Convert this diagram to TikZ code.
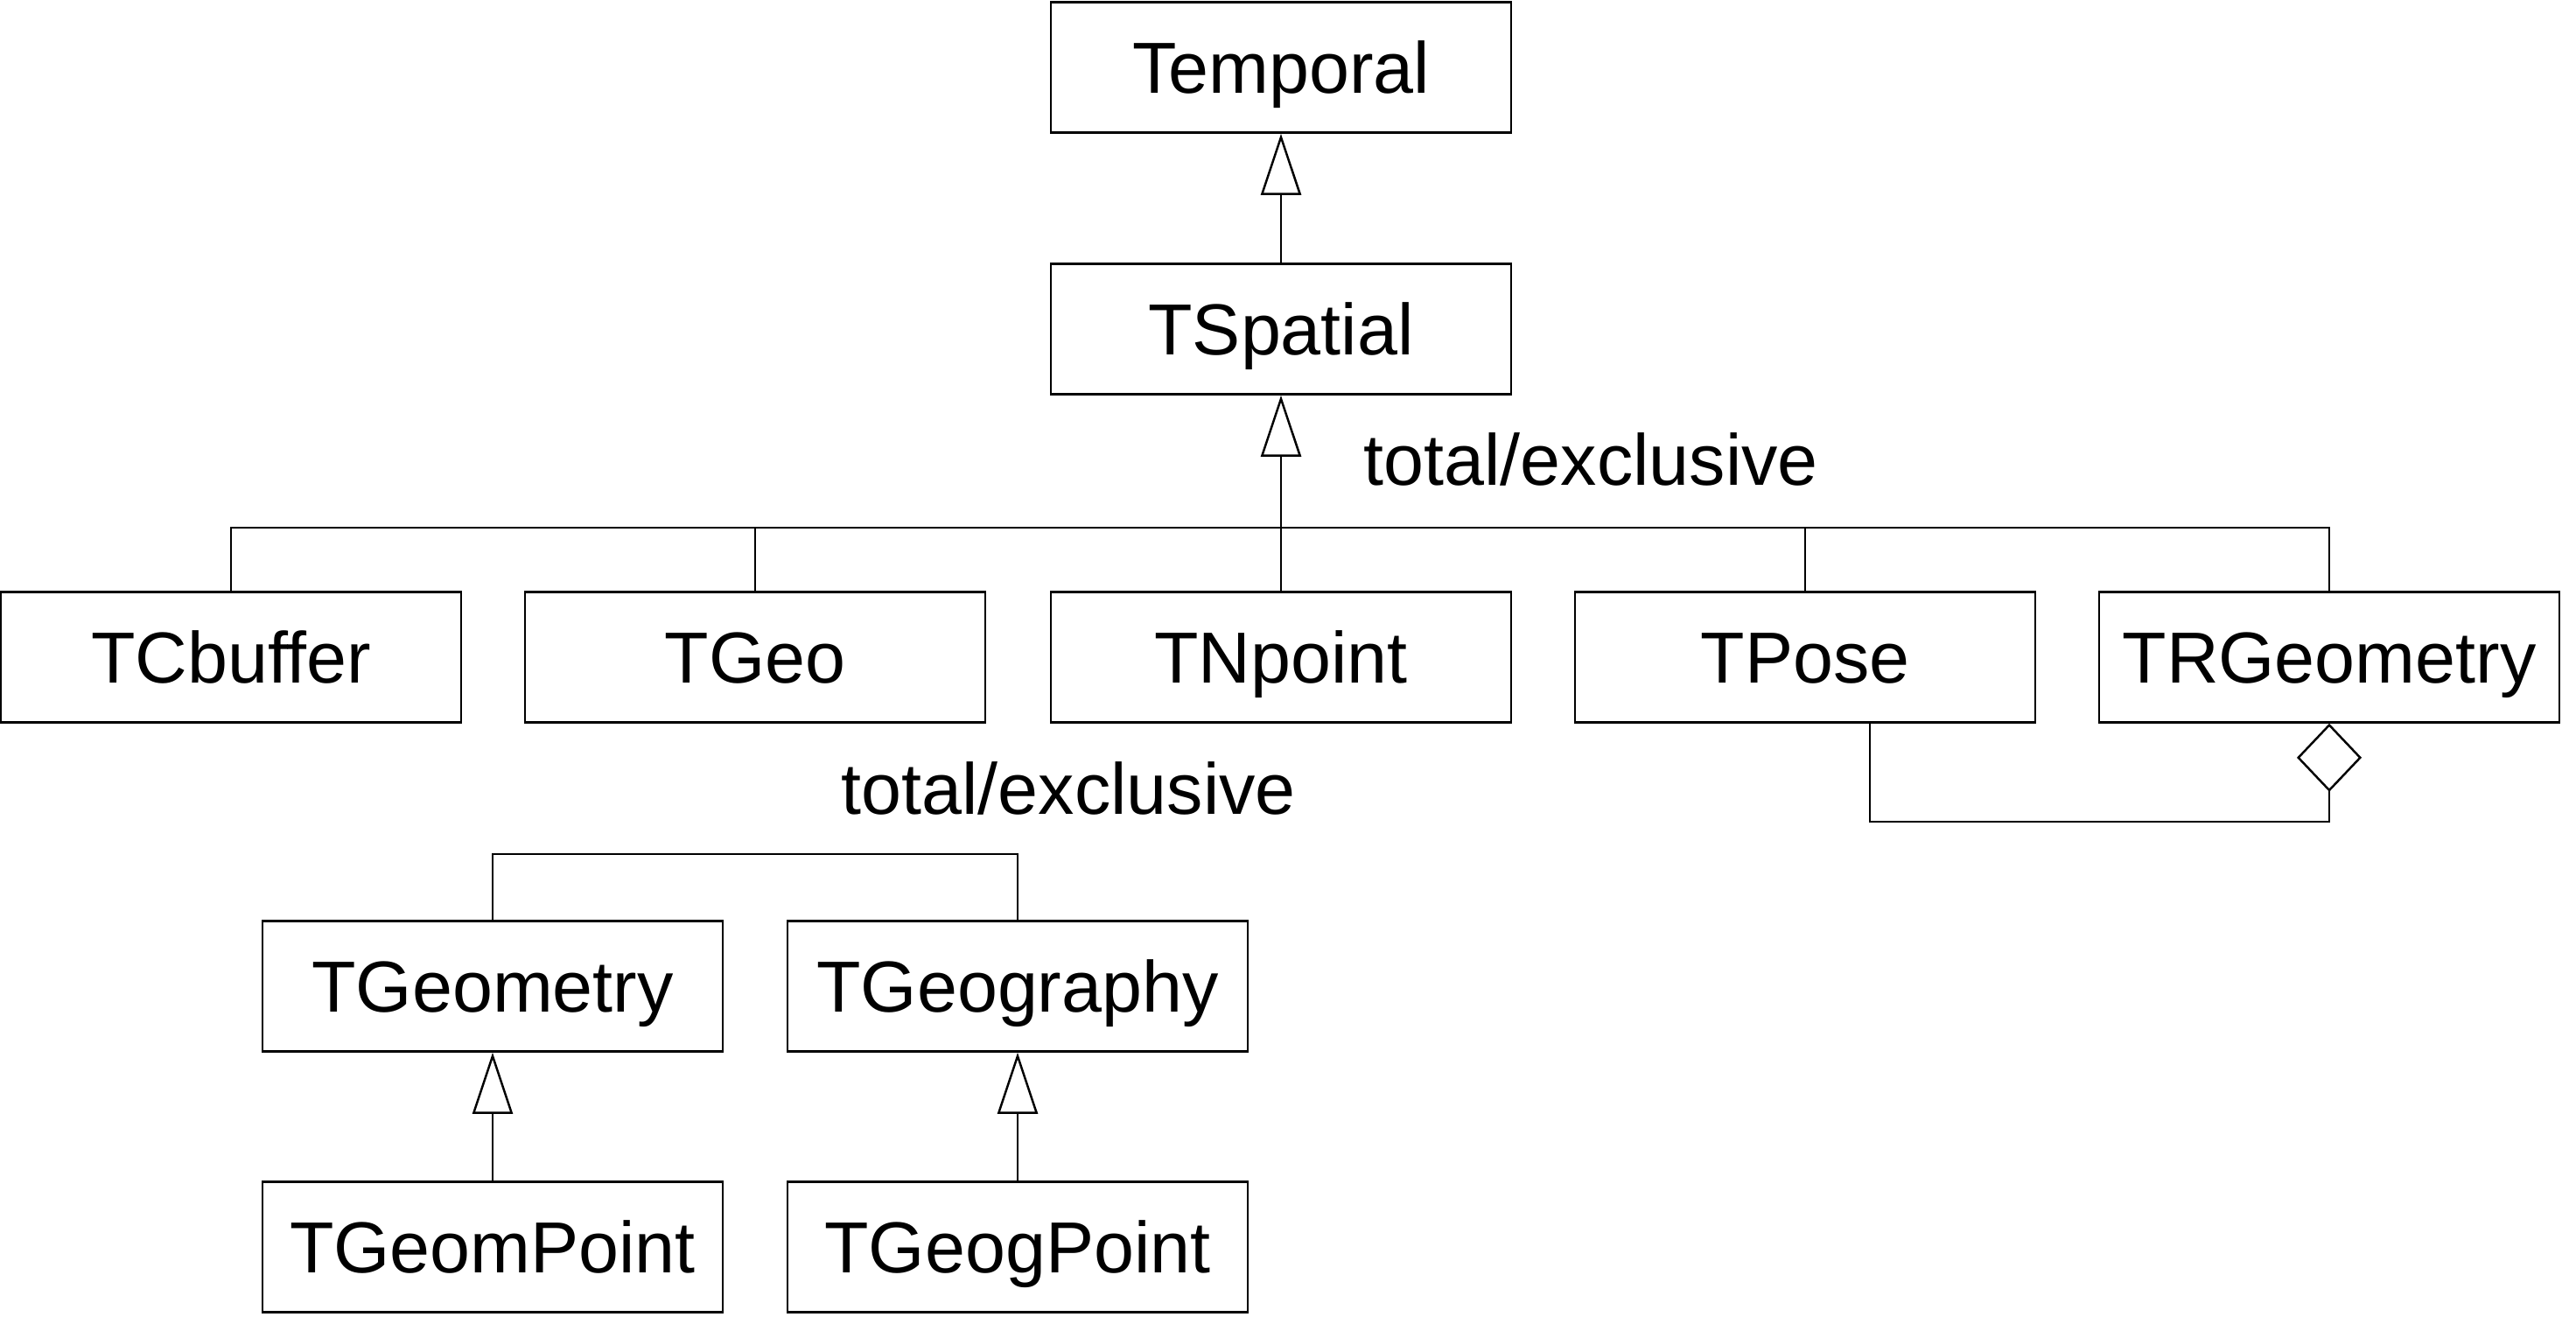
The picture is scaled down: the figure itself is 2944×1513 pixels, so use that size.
\documentclass[tikz,border=0pt]{standalone}
\usepackage{fontspec}
\setmainfont{Liberation Sans}
\usetikzlibrary{arrows.meta}
\begin{document}
\begin{tikzpicture}[x=0.01cm,y=-0.01cm,
  cls/.style={draw, line width=0.7pt, minimum width=5.26cm, minimum height=1.49cm, inner sep=0pt, text height=17pt, text depth=0pt, font=\fontsize{23.5}{28}\selectfont},
  lbl/.style={font=\fontsize{23.5}{28}\selectfont, inner sep=0pt},
  conn/.style={line width=0.7pt},
  gen/.style={conn, -{Triangle[open, length=0.70cm, width=0.46cm, fill=white]}},
  agg/.style={conn, -{Diamond[open, length=0.78cm, width=0.74cm, fill=white]}}]
\useasboundingbox (0,0) rectangle (2944,1513);
\node[cls] (temporal) at (1464,77) {Temporal};
\node[cls] (tspatial) at (1464,376) {TSpatial};
\node[cls] (tcbuffer) at (264,751) {TCbuffer};
\node[cls] (tgeo) at (863,751) {TGeo};
\node[cls] (tnpoint) at (1464,751) {TNpoint};
\node[cls] (tpose) at (2063,751) {TPose};
\node[cls] (trgeom) at (2662,751) {TRGeometry};
\node[cls] (tgeometry) at (563,1127) {TGeometry};
\node[cls] (tgeography) at (1163,1127) {TGeography};
\node[cls] (tgeompoint) at (563,1425) {TGeomPoint};
\node[cls] (tgeogpoint) at (1163,1425) {TGeogPoint};
\node[lbl, anchor=base west] (te1) at (1558,555) {total/exclusive};
\node[lbl, anchor=base west] (te2) at (961,931) {total/exclusive};
\coordinate (j1) at (1464,603);
\coordinate (j2) at (863,976);
\coordinate (pd) at (2137,939);
\draw[gen] (tspatial.north) -- (temporal.south);
\draw[gen] (tnpoint.north) -- (tspatial.south);
\draw[conn] (tcbuffer.north) |- (j1) -| (trgeom.north);
\draw[conn] (tgeo.north) -- (tgeo.north |- j1);
\draw[conn] (tpose.north) -- (tpose.north |- j1);
\draw[conn] (tgeometry.north) |- (j2) -| (tgeography.north);
\draw[gen] (tgeompoint.north) -- (tgeometry.south);
\draw[gen] (tgeogpoint.north) -- (tgeography.south);
\draw[agg] (tpose.south -| pd) -- (pd) -| (trgeom.south);
\end{tikzpicture}
\end{document}
